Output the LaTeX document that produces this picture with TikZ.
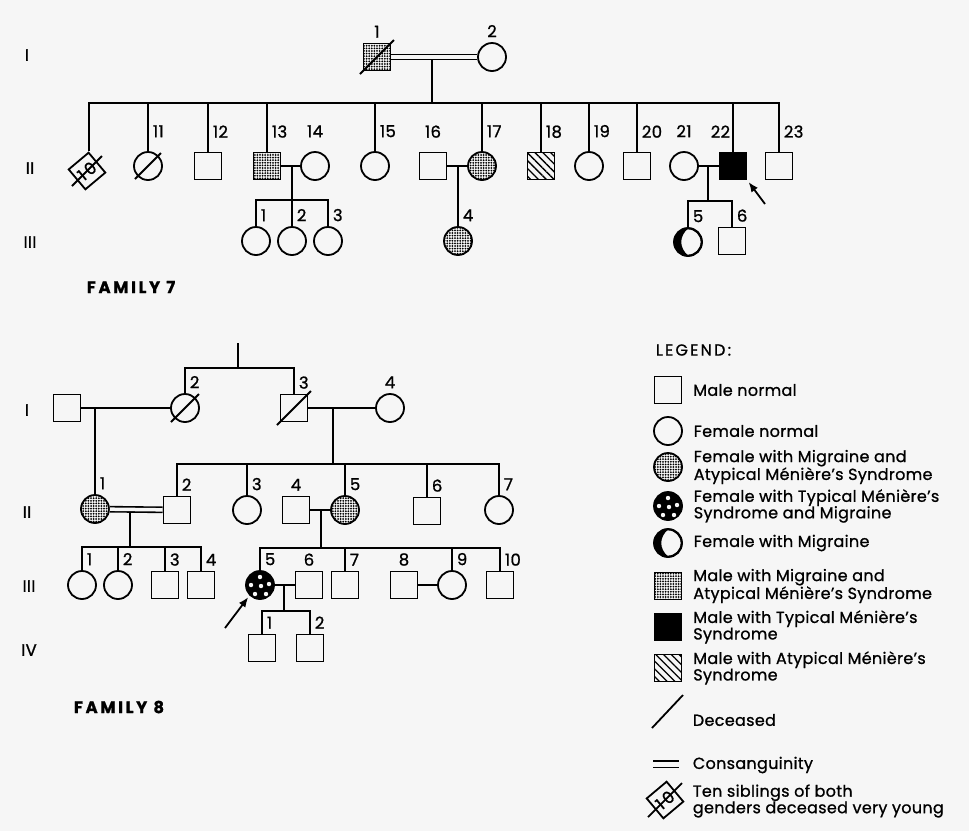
\documentclass[tikz,border=0pt]{standalone}
\usepackage{fontspec}
\setmainfont{Poppins}[FakeBold=1, LetterSpace=2]
\usetikzlibrary{positioning,arrows.meta,patterns.meta}
\definecolor{paper}{gray}{0.965}
\newcommand\numfont{\fontsize{16.5}{17}\selectfont}
\newcommand\legfont{\fontsize{16}{16.5}\selectfont}
% slash for deceased persons
\newcommand\deceased[2]{\draw ([shift={(-#2,#2)}]#1.center) -- ([shift={(#2,-#2)}]#1.center);}
% white spots of typical Meniere + migraine
\newcommand\typdots[1]{\foreach \p in {(0,-8),(-9,0),(1,1),(9,-1),(-5,9),(6,9)}
  \fill[paper] ([shift={\p}]#1.center) circle[radius=2.2pt];}
% black crescent of migraine
\newcommand\crescent[1]{\fill ([yshift=13.5pt]#1.center) arc[start angle=90, end angle=270, radius=13.5pt]
  .. controls +(-9pt,8pt) and +(-9pt,-8pt) .. ([yshift=13.5pt]#1.center);
  \draw (#1.center) circle[radius=13.5pt];}

\begin{document}
\begin{tikzpicture}[x=1pt, y=-1pt, line width=1.8pt,
    male/.style={draw, minimum size=27pt, inner sep=0pt},
    female/.style={circle, draw, minimum size=28pt, inner sep=0pt},
    mixed/.style={pattern={Dots[radius=1pt, distance=2.6pt]}},
    typical/.style={fill=black},
    atypical/.style={pattern={Lines[angle=-45, distance=5.5pt, line width=1.3pt]}},
    sibs/.style={draw, minimum size=26pt, inner sep=0pt, rotate=40, font=\numfont},
    num/.style={font=\numfont, inner sep=0pt},
    lr/.style={label={[num, anchor=south west, xshift=4pt]above:#1}},
    lc/.style={label={[num]above:#1}},
    ll/.style={label={[num, anchor=south east, xshift=-2pt]above:#1}},
    gen/.style={font=\numfont},
    title/.style={font=\numfont\bfseries\addfontfeatures{LetterSpace=16}},
    wed/.style={double=paper, double distance=3.5pt, line width=1.6pt},
    arrow/.style={-{Latex[length=10pt, width=8pt]}, shorten >=2pt},
    legtext/.style={font=\legfont, align=left, inner sep=0pt},
    label distance=4pt
  ]
  \fill[paper] (0,0) rectangle (969,831);
  \useasboundingbox (0,0) rectangle (969,831);

  %% FAMILY 7
  \node[gen] (f7-g1) at (27,55) {I};
  \node[gen] (f7-g2) at (30,168) {II};
  \node[gen] (f7-g3) at (30,242) {III};

  \node[male, mixed, lc=1] (f7-i1) at (377,57) {};
  \node[female, lc=2] (f7-i2) at (492,57) {};
  \deceased{f7-i1}{17}
  \draw[wed] (f7-i1) -- (f7-i2);
  \coordinate (f7-m1) at (432,59);
  \coordinate (f7-s1) at (432,103);
  \draw (f7-m1) -- (f7-s1);

  \begin{scope}[label distance=13pt]
    \node[sibs] (f7-ii10) at (87,171) {1\hspace{3pt}0};
    \node[female, lr=11] (f7-ii11) at (148,166) {};
    \node[male, lr=12] (f7-ii12) at (208,166) {};
    \node[male, mixed, lr=13] (f7-ii13) at (267,166) {};
    \node[female, lc=14] (f7-ii14) at (315,166) {};
    \node[female, lr=15] (f7-ii15) at (375,166) {};
    \node[male, lc=16] (f7-ii16) at (433,166) {};
    \node[female, mixed, lr=17] (f7-ii17) at (482,166) {};
    \node[male, atypical, lr=18] (f7-ii18) at (541,166) {};
    \node[female, lr=19] (f7-ii19) at (589,166) {};
    \node[male, lr=20] (f7-ii20) at (637,166) {};
    \node[female, lc=21] (f7-ii21) at (684,166) {};
    \node[male, typical, ll=22] (f7-ii22) at (733,166) {};
    \node[male, lr=23] (f7-ii23) at (779,166) {};
  \end{scope}
  \deceased{f7-ii10}{15}
  \deceased{f7-ii11}{13}

  \draw (f7-ii10.north east) |- (f7-s1) -| (f7-ii23);
  \foreach \c in {ii11,ii12,ii13,ii15,ii17,ii18,ii19,ii20,ii22}
    \draw (f7-\c) -- (f7-\c |- f7-s1);

  \draw (f7-ii13) -- (f7-ii14);
  \draw (f7-ii16) -- (f7-ii17);
  \draw (f7-ii21) -- (f7-ii22);
  \coordinate (f7-m13) at (292,166);
  \coordinate (f7-s13) at (292,200);
  \coordinate (f7-m16) at (458,166);
  \coordinate (f7-m21) at (708,166);
  \coordinate (f7-s21) at (708,201);

  \node[female, lr=1] (f7-iii1) at (256,241) {};
  \node[female, lr=2] (f7-iii2) at (292,241) {};
  \node[female, lr=3] (f7-iii3) at (328,241) {};
  \node[female, mixed, lr=4] (f7-iii4) at (458,241) {};
  \node[female, lr=5] (f7-iii5) at (688,242) {};
  \crescent{f7-iii5}
  \node[male, lr=6] (f7-iii6) at (732,241) {};

  \draw (f7-m13) -- (f7-s13);
  \draw (f7-iii1) |- (f7-s13) -| (f7-iii3);
  \draw (f7-iii2) -- (f7-s13);
  \draw (f7-m16) -- (f7-iii4);
  \draw (f7-m21) -- (f7-s21);
  \draw (f7-iii5) |- (f7-s21) -| (f7-iii6);

  \coordinate (f7-arr) at (765,204);
  \draw[arrow] (f7-arr) -- (f7-ii22.south east);

  \node[title] (f7-title) at (131,287) {FAMILY 7};

  %% FAMILY 8
  \node[gen] (f8-g1) at (27,410) {I};
  \node[gen] (f8-g2) at (27,512) {II};
  \node[gen] (f8-g3) at (29,586) {III};
  \node[gen] (f8-g4) at (29,650) {IV};

  \coordinate (f8-top) at (238,343);
  \coordinate (f8-s0) at (238,368);
  \node[male] (f8-i1) at (67,408) {};
  \node[female, lr=2] (f8-i2) at (185,408) {};
  \node[male, lr=3] (f8-i3) at (294,408) {};
  \node[female, lc=4] (f8-i4) at (390,408) {};
  \deceased{f8-i2}{14}
  \deceased{f8-i3}{17}

  \draw (f8-top) -- (f8-s0);
  \draw (f8-i2) |- (f8-s0) -| (f8-i3);
  \draw (f8-i1) -- (f8-i2);
  \draw (f8-i3) -- (f8-i4);
  \coordinate (f8-m1) at (95,408);
  \coordinate (f8-m3) at (333,408);
  \coordinate (f8-s1) at (333,464);

  \node[female, mixed, lr=1] (f8-ii1) at (95,509) {};
  \node[male, lr=2] (f8-ii2) at (177,510) {};
  \node[female, lr=3] (f8-ii3) at (247,510) {};
  \node[male, lc=4] (f8-ii4) at (296,510) {};
  \node[female, mixed, lr=5] (f8-ii5) at (345,510) {};
  \node[male, lr=6] (f8-ii6) at (427,511) {};
  \node[female, lr=7] (f8-ii7) at (499,510) {};

  \draw (f8-m1) -- (f8-ii1);
  \draw (f8-m3) -- (f8-s1);
  \draw (f8-ii2) |- (f8-s1) -| (f8-ii7);
  \foreach \c in {ii3,ii5,ii6}
    \draw (f8-\c) -- (f8-\c |- f8-s1);
  \draw[wed] (f8-ii1) -- (f8-ii2);
  \draw (f8-ii4) -- (f8-ii5);
  \coordinate (f8-m4) at (130,512);
  \coordinate (f8-s2) at (130,547);
  \coordinate (f8-m5) at (321,510);
  \coordinate (f8-s3) at (321,548);

  \node[female, lr=1] (f8-iii1) at (82,585) {};
  \node[female, lr=2] (f8-iii2) at (118,585) {};
  \node[male, lr=3] (f8-iii3) at (165,585) {};
  \node[male, lr=4] (f8-iii4) at (201,585) {};
  \node[female, typical, lr=5] (f8-iii5) at (260,585) {};
  \typdots{f8-iii5}
  \node[male, lc=6] (f8-iii6) at (309,585) {};
  \node[male, lr=7] (f8-iii7) at (345,585) {};
  \node[male, lc=8] (f8-iii8) at (404,585) {};
  \node[female, lr=9] (f8-iii9) at (452,585) {};
  \node[male, lr=10] (f8-iii10) at (500,585) {};

  \draw (f8-m4) -- (f8-s2);
  \draw (f8-iii1) |- (f8-s2) -| (f8-iii4);
  \foreach \c in {iii2,iii3}
    \draw (f8-\c) -- (f8-\c |- f8-s2);
  \draw (f8-m5) -- (f8-s3);
  \draw (f8-iii5) |- (f8-s3) -| (f8-iii10);
  \foreach \c in {iii7,iii9}
    \draw (f8-\c) -- (f8-\c |- f8-s3);
  \draw (f8-iii5) -- (f8-iii6);
  \draw (f8-iii8) -- (f8-iii9);
  \coordinate (f8-m6) at (284,585);
  \coordinate (f8-s4) at (284,611);

  \node[male, lr=1] (f8-iv1) at (262,648) {};
  \node[male, lr=2] (f8-iv2) at (310,648) {};
  \draw (f8-m6) -- (f8-s4);
  \draw (f8-iv1) |- (f8-s4) -| (f8-iv2);

  \coordinate (f8-arr) at (225,628);
  \draw[arrow] (f8-arr) -- (f8-iii5.south west);

  \node[title] (f8-title) at (119,707) {FAMILY 8};

  %% LEGEND
  \node[legtext, anchor=west, font=\legfont\addfontfeatures{LetterSpace=14}] (lg-head) at (655,350) {LEGEND:};
  \node[male] (lg-male) at (668,390) {};
  \node[legtext, right=10pt of lg-male] (lg-male-t) {Male normal};
  \node[female] (lg-fem) at (668,431) {};
  \node[legtext, right=10pt of lg-fem] (lg-fem-t) {Female normal};
  \node[female, mixed] (lg-fma) at (668,467) {};
  \node[legtext, right=10pt of lg-fma] (lg-fma-t) {Female with Migraine and\\Atypical Ménière's Syndrome};
  \node[female, typical] (lg-fty) at (668,506) {};
  \typdots{lg-fty}
  \node[legtext, right=10pt of lg-fty] (lg-fty-t) {Female with Typical Ménière's\\Syndrome and Migraine};
  \node[female] (lg-fmi) at (668,543) {};
  \crescent{lg-fmi}
  \node[legtext, right=10pt of lg-fmi] (lg-fmi-t) {Female with Migraine};
  \node[male, mixed] (lg-mma) at (668,586) {};
  \node[legtext, right=10pt of lg-mma] (lg-mma-t) {Male with Migraine and\\Atypical Ménière's Syndrome};
  \node[male, typical] (lg-mty) at (668,627) {};
  \node[legtext, right=10pt of lg-mty] (lg-mty-t) {Male with Typical Ménière's\\Syndrome};
  \node[male, atypical] (lg-mat) at (668,668) {};
  \node[legtext, right=10pt of lg-mat] (lg-mat-t) {Male with Atypical Ménière's\\Syndrome};
  \coordinate (lg-d1) at (652,728);
  \coordinate (lg-d2) at (683,695);
  \draw (lg-d1) -- (lg-d2);
  \node[legtext, anchor=west] (lg-dec-t) at (692,720) {Deceased};
  \coordinate (lg-c1) at (653,764);
  \coordinate (lg-c2) at (679,764);
  \draw[wed, double distance=5pt] (lg-c1) -- (lg-c2);
  \node[legtext, anchor=west] (lg-con-t) at (692,765) {Consanguinity};
  \node[sibs] (lg-sibs) at (665,800) {1\hspace{3pt}0};
  \deceased{lg-sibs}{17}
  \node[legtext, anchor=west] (lg-sibs-t) at (692,801) {Ten siblings of both\\genders deceased very young};
\end{tikzpicture}
\end{document}
